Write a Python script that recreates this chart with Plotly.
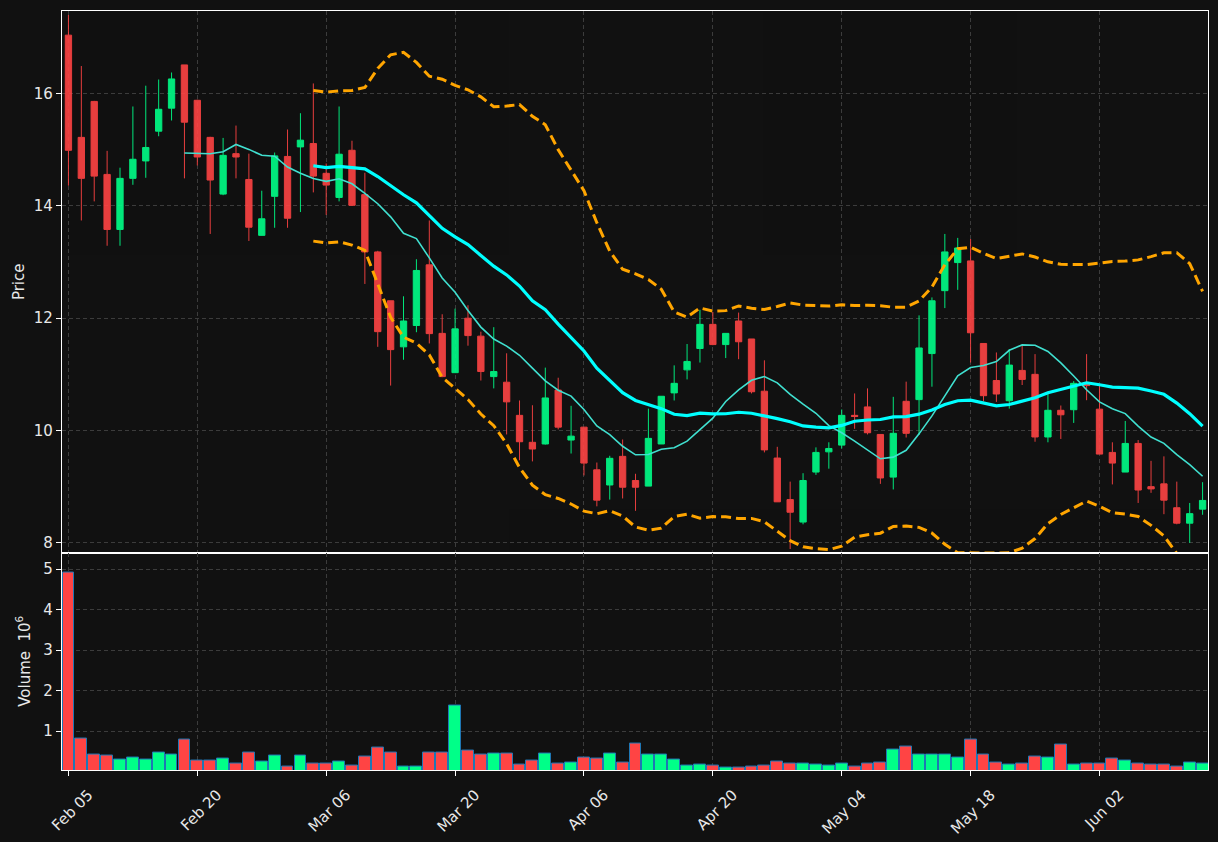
import plotly.graph_objects as go
import pandas as pd

# ---------------- data ----------------
opens = [17.04, 15.22, 15.86, 14.56, 13.58, 14.49, 14.80, 15.33, 15.74, 16.51,
         15.88, 15.22, 14.21, 14.93, 14.47, 13.475, 14.17, 14.88, 15.05, 15.11,
         14.58, 14.15, 14.99, 14.20, 13.18, 12.31, 11.49, 11.87, 12.95, 11.73,
         11.03, 12.00, 11.68, 10.96, 10.86, 10.27, 9.79, 9.76, 10.72, 9.83,
         10.06, 9.30, 9.03, 9.54, 9.11, 9.01, 9.76, 10.67, 11.08, 11.46,
         11.89, 11.53, 11.95, 11.63, 10.70, 9.51, 8.77, 8.37, 9.26, 9.62,
         9.74, 10.27, 10.42, 9.93, 9.17, 10.52, 10.55, 11.37, 12.49, 12.99,
         13.02, 11.55, 10.89, 10.53, 11.07, 11.00, 9.885, 10.36, 10.37, 10.85,
         10.38, 9.61, 9.26, 9.77, 9.00, 9.05, 8.625, 8.35, 8.60]
highs = [17.40, 16.49, 15.87, 14.98, 14.68, 15.77, 16.14, 16.25, 16.375, 16.51,
         15.89, 15.23, 15.21, 15.43, 14.93, 14.27, 14.95, 15.36, 15.65, 16.18,
         14.755, 15.77, 15.16, 14.59, 13.20, 12.31, 12.39, 13.05, 13.74, 12.07,
         12.17, 12.23, 11.76, 11.84, 11.375, 10.535, 10.45, 11.12, 10.94, 10.44,
         10.06, 9.43, 9.55, 9.84, 9.23, 10.39, 10.61, 11.16, 11.54, 12.15,
         12.11, 11.73, 12.10, 11.63, 11.25, 9.71, 9.09, 9.24, 9.70, 9.79,
         10.375, 10.66, 10.75, 9.93, 10.60, 10.87, 12.05, 12.37, 13.50, 13.43,
         13.41, 11.55, 11.39, 11.45, 11.51, 11.36, 10.66, 10.445, 10.88, 11.36,
         10.80, 9.79, 10.17, 9.83, 9.46, 9.54, 9.09, 8.71, 9.08]
lows = [14.36, 13.74, 14.08, 13.29, 13.29, 14.375, 14.50, 15.24, 15.52, 14.49,
        14.72, 13.50, 14.19, 14.49, 13.375, 13.47, 13.61, 13.61, 13.89, 14.24,
        13.84, 14.08, 14.00, 12.61, 11.49, 10.80, 11.26, 11.75, 11.55, 10.95,
        11.03, 11.51, 10.89, 10.75, 9.93, 9.47, 9.45, 9.75, 10.02, 9.59,
        9.20, 8.65, 8.77, 8.79, 8.57, 9.01, 9.76, 10.535, 10.91, 11.21,
        11.52, 11.29, 11.27, 10.66, 9.61, 8.73, 7.89, 8.33, 9.21, 9.32,
        9.68, 10.03, 9.93, 9.05, 8.95, 9.875, 9.92, 10.78, 12.18, 12.505,
        11.21, 10.52, 10.51, 10.39, 10.81, 9.80, 9.79, 9.85, 10.135, 10.54,
        9.58, 9.04, 9.26, 8.71, 8.89, 8.51, 8.33, 8.00, 8.50]
closes = [14.99, 14.49, 14.53, 13.58, 14.49, 14.83, 15.04, 15.72, 16.26, 15.49,
          14.87, 14.46, 14.90, 14.87, 13.62, 13.77, 14.89, 13.78, 15.17, 14.53,
          14.37, 14.92, 14.01, 13.18, 11.76, 11.44, 11.95, 12.85, 11.725, 10.96,
          11.81, 11.69, 11.05, 11.05, 10.51, 9.80, 9.67, 10.58, 10.06, 9.90,
          9.42, 8.76, 9.505, 8.99, 8.99, 9.86, 10.61, 10.84, 11.23, 11.89,
          11.53, 11.73, 11.58, 10.69, 9.655, 8.73, 8.545, 9.11, 9.61, 9.68,
          10.27, 10.25, 9.96, 9.155, 9.95, 9.95, 11.47, 12.31, 13.18, 13.25,
          11.74, 10.62, 10.65, 11.165, 10.91, 9.885, 10.36, 10.28, 10.84, 10.80,
          9.58, 9.42, 9.77, 8.94, 8.96, 8.76, 8.35, 8.52, 8.755]
volumes_m = [4.91, 0.82, 0.42, 0.40, 0.31, 0.35, 0.31, 0.47, 0.42, 0.80,
             0.275, 0.275, 0.32, 0.21, 0.46, 0.26, 0.40, 0.125, 0.40, 0.21,
             0.21, 0.26, 0.16, 0.37, 0.60, 0.48, 0.125, 0.125, 0.48, 0.48,
             1.62, 0.53, 0.41, 0.455, 0.455, 0.18, 0.28, 0.455, 0.21, 0.23,
             0.36, 0.33, 0.455, 0.23, 0.70, 0.41, 0.43, 0.31, 0.16, 0.18,
             0.16, 0.11, 0.11, 0.13, 0.16, 0.26, 0.21, 0.21, 0.18, 0.16,
             0.21, 0.125, 0.21, 0.23, 0.55, 0.63, 0.41, 0.43, 0.43, 0.36,
             0.80, 0.41, 0.23, 0.18, 0.21, 0.38, 0.36, 0.68, 0.18, 0.21,
             0.21, 0.33, 0.28, 0.21, 0.18, 0.18, 0.13, 0.23, 0.21]
tick_labels = ["Feb 05", "Feb 20", "Mar 06", "Mar 20", "Apr 06",
               "Apr 20", "May 04", "May 18", "Jun 02"]
tick_day_index = [0, 10, 20, 30, 40, 50, 60, 70, 80]

# ---------------- derived indicators ----------------
idx = list(range(len(closes)))
cs = pd.Series(closes)
ma10 = cs.rolling(10).mean()
ma20 = cs.rolling(20).mean()
sd20 = cs.rolling(20).std(ddof=0)
bb_up = ma20 + 2 * sd20
bb_lo = ma20 - 2 * sd20

UP = "#00FF88"
DOWN = "#FF4444"
vol_colors = [UP if c >= o else DOWN for o, c in zip(opens, closes)]
TXT = "#e8e8e8"

fig = go.Figure()
fig.add_trace(go.Candlestick(
    x=idx, open=opens, high=highs, low=lows, close=closes,
    increasing=dict(line=dict(color=UP, width=1), fillcolor=UP),
    decreasing=dict(line=dict(color=DOWN, width=1), fillcolor=DOWN),
    opacity=0.9, whiskerwidth=0, showlegend=False,
    xaxis="x", yaxis="y"))
fig.add_trace(go.Scatter(x=idx, y=ma10, mode="lines",
                         line=dict(color="#40E0D0", width=1.6),
                         showlegend=False, xaxis="x", yaxis="y"))
fig.add_trace(go.Scatter(x=idx, y=ma20, mode="lines",
                         line=dict(color="#00FFFF", width=3.2),
                         showlegend=False, xaxis="x", yaxis="y"))
for band in (bb_up, bb_lo):
    fig.add_trace(go.Scatter(x=idx, y=band, mode="lines",
                             line=dict(color="#FFA500", width=3, dash="10px,5px"),
                             showlegend=False, xaxis="x", yaxis="y"))
fig.add_trace(go.Bar(x=idx, y=volumes_m, width=0.92,
                     marker=dict(color=vol_colors, line=dict(color="#1f77b4", width=1)),
                     showlegend=False, xaxis="x2", yaxis="y2"))

grid = dict(showgrid=True, gridcolor="#3c3c3c", gridwidth=1, griddash="4px,3px")
axis_common = dict(showline=True, linecolor="white", linewidth=1.2, mirror=True,
                   zeroline=False, color=TXT, automargin=False)
xr = [-0.5, 88.42]
split = 0.2865

fig.update_layout(
    width=1218, height=842,
    margin=dict(l=62, r=10, t=11, b=72, autoexpand=False),
    paper_bgcolor="#111111", plot_bgcolor="#111111",
    font=dict(family="DejaVu Sans", size=15, color=TXT),
    bargap=0,
    xaxis=dict(domain=[0, 1], range=xr, anchor="y", showticklabels=False,
               tickvals=tick_day_index, ticks="", rangeslider=dict(visible=False),
               **grid, **axis_common),
    yaxis=dict(domain=[split, 1], range=[7.827, 17.47], anchor="x",
               tickvals=[8, 10, 12, 14, 16], ticks="outside", ticklen=5,
               tickcolor="white", tickfont=dict(family="DejaVu Sans", size=15, color=TXT),
               title=dict(text="Price", font=dict(family="DejaVu Sans", size=15, color=TXT),
                          standoff=5),
               **grid, **axis_common),
    xaxis2=dict(domain=[0, 1], range=xr, anchor="y2", matches="x",
                tickvals=tick_day_index, ticktext=tick_labels, tickangle=-45,
                ticks="outside", ticklen=5, tickcolor="white",
                tickfont=dict(family="DejaVu Sans", size=15, color=TXT),
                ticklabelshift=20, ticklabelstandoff=4,
                **grid, **axis_common),
    yaxis2=dict(domain=[0, split], range=[0.04, 5.41], anchor="x2",
                tickvals=[1, 2, 3, 4, 5], ticks="outside", ticklen=5,
                tickcolor="white", tickfont=dict(family="DejaVu Sans", size=15, color=TXT),
                title=dict(text="Volume  10<sup>6</sup>",
                           font=dict(family="DejaVu Sans", size=15, color=TXT),
                           standoff=9),
                **grid, **axis_common),
)

fig.write_html("out.html")
